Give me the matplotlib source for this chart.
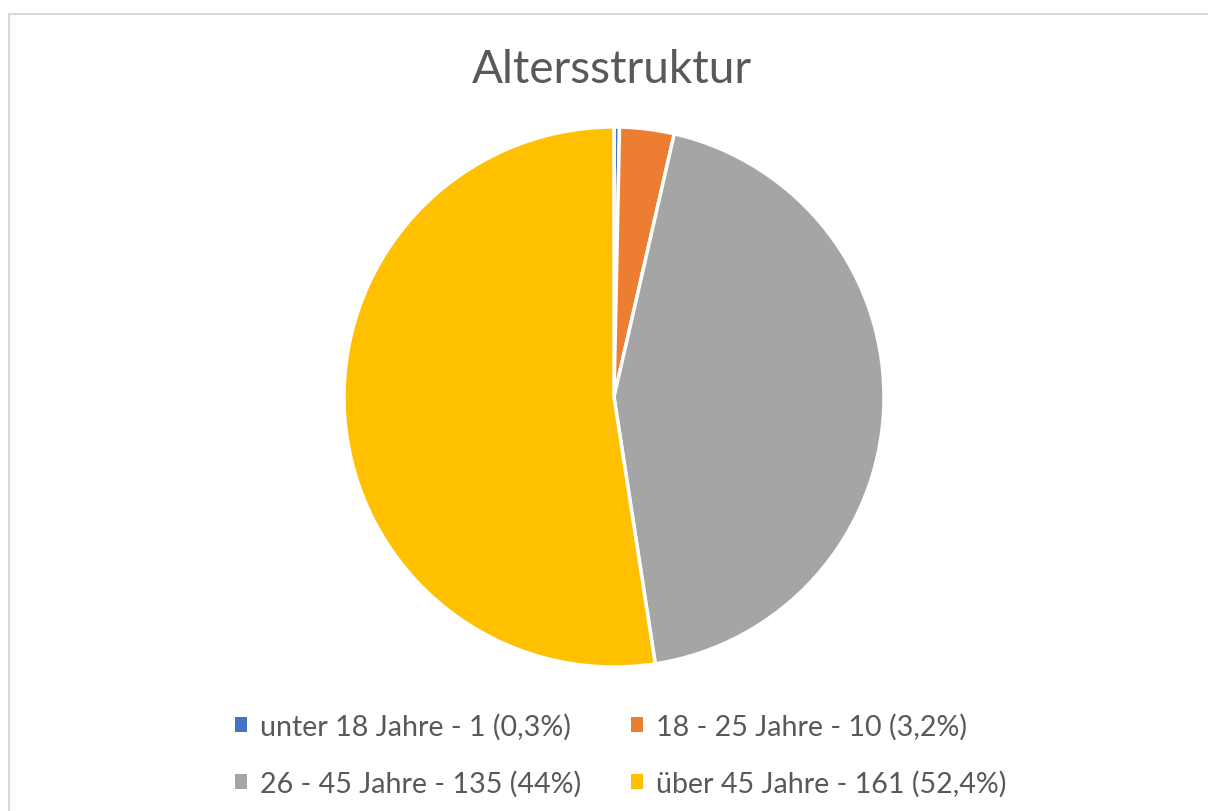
import matplotlib.pyplot as plt
from matplotlib.lines import Line2D

plt.rcParams['font.family'] = ['Lato', 'DejaVu Sans']

labels = ["unter 18 Jahre - 1 (0,3%)", "18 - 25 Jahre - 10 (3,2%)",
          "26 - 45 Jahre - 135 (44%)", "über 45 Jahre - 161 (52,4%)"]
counts = [1, 10, 135, 161]
colors = ['#4472c4', '#ed7d31', '#a5a5a5', '#ffc000']

W, H = 1208, 812
fig = plt.figure(figsize=(W / 100, H / 100), dpi=100)

# chart border (light gray, only top and left are inside the picture)
bx, by = 8.5 / W, 1 - 14.5 / H
fig.lines.append(Line2D([bx, 1.1], [by, by], transform=fig.transFigure,
                        color='#d9d9d9', linewidth=1.5))
fig.lines.append(Line2D([bx, bx], [-0.1, by], transform=fig.transFigure,
                        color='#d9d9d9', linewidth=1.5))

cx, cy, r = 614, 398, 270
ax = fig.add_axes([(cx - r) / W, (H - cy - r) / H, 2 * r / W, 2 * r / H])
wedges, _ = ax.pie(counts, colors=colors, startangle=90, counterclock=False,
                   wedgeprops=dict(edgecolor='white', linewidth=2.5))
ax.set_xlim(-1, 1)
ax.set_ylim(-1, 1)
ax.set_aspect('equal')
ax.axis('off')

fig.text(612 / W, 1 - 70 / H, "Altersstruktur", ha='center', va='center',
         fontsize=33, color='#595959')

order = [0, 2, 1, 3]
leg = fig.legend([wedges[i] for i in order], [labels[i] for i in order], ncol=2,
                 loc='center', bbox_to_anchor=(621 / W, 1 - 756 / H), frameon=False,
                 fontsize=20.6, handlelength=0.42, handleheight=0.42, handletextpad=0.45,
                 columnspacing=1.75, labelspacing=1.05, labelcolor='#595959')
for h in leg.legend_handles:
    h.set_edgecolor('none')

fig.savefig('out.png', dpi=100)
